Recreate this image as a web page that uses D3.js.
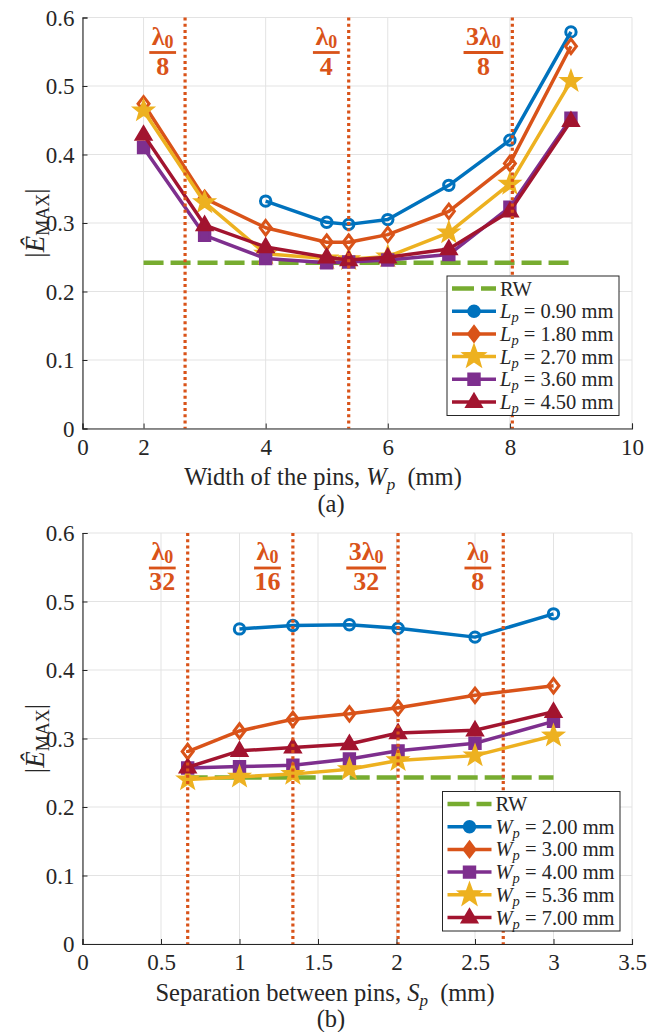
<!DOCTYPE html>
<html>
<head>
<meta charset="utf-8">
<script src="https://cdn.jsdelivr.net/npm/d3@7"></script>
<style>
  body { margin: 0; background: #fff; }
  svg { display: block; }
  text { font-family: "Liberation Serif", "Times New Roman", serif; fill: #262626; }
</style>
</head>
<body>
<svg id="fig" width="648" height="1032"></svg>
<script>
// ---------- Panel (a): peak field versus pin width ----------
const widthPins = [2, 3, 4, 5, 5.36, 6, 7, 8, 9];
const lpValues = ["0.90", "1.80", "2.70", "3.60", "4.50"];
const lp090 = [null, null, 0.332, 0.301, 0.298, 0.305, 0.355, 0.421, 0.579];
const lp180 = [0.474, 0.336, 0.293, 0.272, 0.272, 0.283, 0.317, 0.387, 0.558];
const lp270 = [0.464, 0.330, 0.255, 0.248, 0.247, 0.251, 0.286, 0.357, 0.507];
const lp360 = [0.410, 0.282, 0.248, 0.242, 0.243, 0.246, 0.254, 0.323, 0.453];
const lp450 = [0.429, 0.297, 0.265, 0.250, 0.246, 0.250, 0.262, 0.317, 0.449];
const rwLevelA = 0.242;
const rwSpanA = [2, 9];
const xTicksA = [1, 2, 4, 6, 8, 10];
const xTickLabelsA = ["0", "2", "4", "6", "8", "10"];
const lambdaPosA = [2.68, 5.36, 8.04];
const lambdaNumA = ["", "", "3"];
const lambdaDenA = ["8", "4", "8"];

// ---------- Panel (b): peak field versus pin separation ----------
const sepPins = [0.67, 1, 1.34, 1.7, 2.01, 2.5, 3];
const wpValues = ["2.00", "3.00", "4.00", "5.36", "7.00"];
const wp200 = [null, 0.460, 0.465, 0.466, 0.461, 0.448, 0.482];
const wp300 = [0.281, 0.311, 0.328, 0.336, 0.345, 0.363, 0.377];
const wp400 = [0.257, 0.259, 0.261, 0.270, 0.282, 0.293, 0.325];
const wp536 = [0.240, 0.244, 0.248, 0.255, 0.268, 0.275, 0.304];
const wp700 = [0.258, 0.282, 0.287, 0.292, 0.308, 0.312, 0.339];
const rwLevelB = 0.243;
const rwSpanB = [0.67, 3];
const xTicksB = [0, 0.5, 1, 1.5, 2, 2.5, 3, 3.5];
const xTickLabelsB = ["0", "0.5", "1", "1.5", "2", "2.5", "3", "3.5"];
const lambdaPosB = [0.67, 1.34, 2.01, 2.68];
const lambdaNumB = ["", "", "3", ""];
const lambdaDenB = ["32", "16", "32", "8"];

const yTicks = [0, 0.1, 0.2, 0.3, 0.4, 0.5, 0.6];

// ---------- styling ----------
const BLUE = "#0072BD", ORANGE = "#D95319", YELLOW = "#EDB120", PURPLE = "#7E2F8E", RED = "#A2142F";
const colorsA = [BLUE, ORANGE, YELLOW, PURPLE, RED];
const markersA = ["circle", "diamond", "star", "square", "triangle"];
const colorsB = [BLUE, ORANGE, PURPLE, YELLOW, RED];
const markersB = ["circle", "diamond", "square", "star", "triangle"];
const rwColor = "#77AC30";
const lambdaColor = "#D95319";

const svg = d3.select("#fig");
svg.append("rect").attr("width", 648).attr("height", 1032).attr("fill", "#fff");

function markerPath(kind, k = 1) {
  const p = d3.path();
  if (kind === "circle") {
    p.arc(0, 0, 5.2 * k, 0, 2 * Math.PI);
  } else if (kind === "diamond") {
    const w = 5.5 * k, h = 7.2 * k;
    p.moveTo(0, -h); p.lineTo(w, 0); p.lineTo(0, h); p.lineTo(-w, 0); p.closePath();
  } else if (kind === "square") {
    const s = 5.2 * k;
    p.rect(-s, -s, 2 * s, 2 * s);
  } else if (kind === "triangle") {
    const s = 7.5 * k;
    p.moveTo(0, -s); p.lineTo(s * 0.95, s * 0.62); p.lineTo(-s * 0.95, s * 0.62); p.closePath();
  } else if (kind === "star") {
    const R = 11 * k, r = 4.5 * k;
    for (let i = 0; i < 10; i++) {
      const a = -Math.PI / 2 + i * Math.PI / 5;
      const rr = i % 2 === 0 ? R : r;
      const x = rr * Math.cos(a), y = rr * Math.sin(a);
      if (i === 0) p.moveTo(x, y); else p.lineTo(x, y);
    }
    p.closePath();
  }
  return p.toString();
}
const filledMarker = { circle: false, diamond: false, square: true, triangle: true, star: true };

function drawFraction(g, barY, num, den) {
  const fg = g.append("g").attr("transform", `translate(0,${barY})`);
  const t = fg.append("text")
    .attr("text-anchor", "middle").attr("y", -8)
    .attr("font-size", 26).attr("font-weight", "bold")
    .style("fill", lambdaColor);
  t.append("tspan").text(num + "λ");
  t.append("tspan").attr("font-size", 18).attr("dy", 3).text("0");
  const w = t.node().getBBox().width + 5;
  fg.append("line").attr("x1", -w / 2).attr("x2", w / 2)
    .attr("stroke", lambdaColor).attr("stroke-width", 2.8);
  fg.append("text").attr("text-anchor", "middle").attr("y", 22)
    .attr("font-size", 26).attr("font-weight", "bold")
    .style("fill", lambdaColor).text(den);
  return w;
}

function drawPanel(cfg) {
  const x = d3.scaleLinear().domain(cfg.xDomain).range([82.5, 632]);
  const y = d3.scaleLinear().domain([0, 0.6]).range([cfg.bottom, cfg.top]);
  const g = svg.append("g");

  // grid
  g.append("g").selectAll("line").data(cfg.xTicks).join("line")
    .attr("x1", d => x(d)).attr("x2", d => x(d))
    .attr("y1", cfg.top).attr("y2", cfg.bottom)
    .attr("stroke", "#e3e3e3").attr("stroke-width", 1);
  g.append("g").selectAll("line").data(yTicks).join("line")
    .attr("x1", x.range()[0]).attr("x2", x.range()[1])
    .attr("y1", d => y(d)).attr("y2", d => y(d))
    .attr("stroke", "#e3e3e3").attr("stroke-width", 1);

  // reference waveguide level
  g.append("line")
    .attr("x1", x(cfg.rwSpan[0])).attr("x2", x(cfg.rwSpan[1]))
    .attr("y1", y(cfg.rwLevel)).attr("y2", y(cfg.rwLevel))
    .attr("stroke", rwColor).attr("stroke-width", 4.5)
    .attr("stroke-dasharray", "20,7");

  // series
  const line = d3.line().defined(d => d.v != null).x(d => x(d.x)).y(d => y(d.v));
  cfg.series.forEach((vals, i) => {
    const col = cfg.colors[i], mk = cfg.markers[i];
    const pts = vals.map((v, j) => ({ x: cfg.xs[j], v }));
    g.append("path").datum(pts).attr("d", line)
      .attr("fill", "none").attr("stroke", col)
      .attr("stroke-width", 3.5).attr("stroke-linejoin", "round");
    g.append("g").selectAll("path").data(pts.filter(d => d.v != null)).join("path")
      .attr("transform", d => `translate(${x(d.x)},${y(d.v)})`)
      .attr("d", markerPath(mk))
      .attr("fill", filledMarker[mk] ? col : "none")
      .attr("stroke", col).attr("stroke-width", mk === "star" ? 1.5 : 3);
  });

  // wavelength-fraction markers
  g.append("g").selectAll("line").data(cfg.lambdaPos).join("line")
    .attr("x1", d => x(d)).attr("x2", d => x(d))
    .attr("y1", cfg.top).attr("y2", cfg.bottom)
    .attr("stroke", lambdaColor).attr("stroke-width", 3.2)
    .attr("stroke-dasharray", "3,3.2");
  cfg.lambdaPos.forEach((p, i) => {
    const fg = g.append("g");
    const w = drawFraction(fg, cfg.top + 35, cfg.lambdaNum[i], cfg.lambdaDen[i]);
    fg.attr("transform", `translate(${x(p) - cfg.labelGap - w / 2},0)`);
  });

  // axes
  const axL = d3.axisLeft(y).tickValues(yTicks).tickSize(-5).tickPadding(8)
    .tickFormat(d => d === 0 ? "0" : d3.format(".1f")(d));
  const ga = g.append("g").attr("transform", `translate(${x.range()[0]},0)`).call(axL);
  const axB = d3.axisBottom(x).tickValues(cfg.xTicks).tickSize(-5).tickPadding(10)
    .tickFormat((d, i) => cfg.xTickLabels[i]);
  const gb = g.append("g").attr("transform", `translate(0,${cfg.bottom})`).call(axB);
  [ga, gb].forEach(a => {
    a.select(".domain").attr("stroke", "#262626").attr("stroke-width", 1.1);
    a.selectAll(".tick line").attr("stroke", "#262626");
    a.selectAll(".tick text").attr("font-size", 23)
      .attr("font-family", "Liberation Serif").style("fill", "#262626");
  });
  ga.selectAll(".tick text").attr("dy", "0.33em");
  gb.selectAll(".tick text").attr("dy", "0.7em");

  // y label |Ê_MAX|
  const yl = g.append("text")
    .attr("transform", `translate(44,${(cfg.top + cfg.bottom) / 2}) rotate(-90)`)
    .attr("text-anchor", "middle").attr("font-size", 27);
  yl.append("tspan").text("|");
  yl.append("tspan").attr("font-style", "italic").text("Ê");
  yl.append("tspan").attr("font-size", 18).attr("dy", 5).text("MAX");
  yl.append("tspan").attr("dy", -5).text("|");

  // x label
  const xl = g.append("text").attr("x", cfg.xlabelX).attr("y", cfg.bottom + 56.5)
    .attr("text-anchor", "middle").attr("font-size", 24.5);
  xl.append("tspan").text(cfg.xlabel + " ");
  xl.append("tspan").attr("font-style", "italic").text(cfg.xsym);
  xl.append("tspan").attr("font-style", "italic").attr("font-size", 17).attr("dy", 5).text("p");
  xl.append("tspan").attr("dy", -5).text("\u2002(mm)");

  g.append("text").attr("x", 331).attr("y", cfg.bottom + 83)
    .attr("text-anchor", "middle").attr("font-size", 24.5).text(cfg.caption);

  // legend
  const lg = g.append("g").attr("transform", `translate(${cfg.legend.x},${cfg.legend.y})`);
  lg.append("rect").attr("width", cfg.legend.w).attr("height", 139.5)
    .attr("fill", "#fff").attr("stroke", "#262626").attr("stroke-width", 1);
  const rowY = i => 12.5 + i * 22.7;
  lg.append("line").attr("x1", 5).attr("x2", 49).attr("y1", rowY(0)).attr("y2", rowY(0))
    .attr("stroke", rwColor).attr("stroke-width", 4.5).attr("stroke-dasharray", "22,7");
  lg.append("text").attr("x", 53).attr("y", rowY(0) + 7).attr("font-size", 20.5).text("RW");
  cfg.labels.forEach((lab, i) => {
    const yy = rowY(i + 1);
    const col = cfg.colors[i], mk = cfg.markers[i];
    lg.append("line").attr("x1", 5).attr("x2", 49).attr("y1", yy).attr("y2", yy)
      .attr("stroke", col).attr("stroke-width", 3.5);
    lg.append("path").attr("transform", `translate(27,${yy})`)
      .attr("d", markerPath(mk, 1.1))
      .attr("fill", col).attr("stroke", col)
      .attr("stroke-width", mk === "star" ? 1.5 : 2);
    const t = lg.append("text").attr("x", 53).attr("y", yy + 7).attr("font-size", 20.5);
    t.append("tspan").attr("font-style", "italic").text(cfg.sym);
    t.append("tspan").attr("font-style", "italic").attr("font-size", 14.5).attr("dy", 4).text("p");
    t.append("tspan").attr("dy", -4).text(` = ${lab} mm`);
  });
}

drawPanel({
  top: 17.5, bottom: 428.5, xDomain: [1, 10],
  xTicks: xTicksA, xTickLabels: xTickLabelsA,
  xs: widthPins, series: [lp090, lp180, lp270, lp360, lp450],
  colors: colorsA, markers: markersA,
  rwLevel: rwLevelA, rwSpan: rwSpanA,
  lambdaPos: lambdaPosA, lambdaNum: lambdaNumA, lambdaDen: lambdaDenA, labelGap: 9,
  xlabel: "Width of the pins,", xsym: "W", xlabelX: 323, caption: "(a)",
  legend: { x: 447, y: 276, w: 172 }, sym: "L", labels: lpValues
});

drawPanel({
  top: 533, bottom: 944, xDomain: [0, 3.5],
  xTicks: xTicksB, xTickLabels: xTickLabelsB,
  xs: sepPins, series: [wp200, wp300, wp400, wp536, wp700],
  colors: colorsB, markers: markersB,
  rwLevel: rwLevelB, rwSpan: rwSpanB,
  lambdaPos: lambdaPosB, lambdaNum: lambdaNumB, lambdaDen: lambdaDenB, labelGap: 12,
  xlabel: "Separation between pins,", xsym: "S", xlabelX: 325, caption: "(b)",
  legend: { x: 442.5, y: 791.5, w: 177.5 }, sym: "W", labels: wpValues
});
</script>
</body>
</html>
